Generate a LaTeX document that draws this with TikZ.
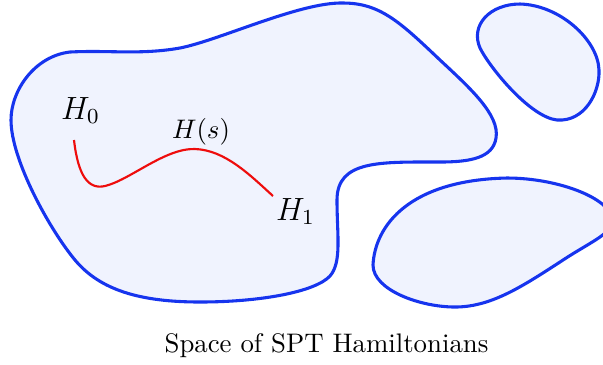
\documentclass[tikz,border=0pt]{standalone}
\definecolor{blobline}{RGB}{22,52,238}
\definecolor{blobfill}{RGB}{240,243,254}
\definecolor{pathred}{RGB}{238,12,12}
\begin{document}
\begin{tikzpicture}[x=0.373pt,y=-0.373pt,
  blob/.style={draw=blobline,fill=blobfill,line width=1.15pt,line join=round},
  lbl/.style={anchor=base,inner sep=0pt,font=\normalsize},
  biglbl/.style={anchor=base,inner sep=0pt,font=\large}]
\useasboundingbox (0,0) rectangle (603,364);
\begin{scope}
\clip (0,0) rectangle (603,364);
% main region
\draw[blob] (11,120) .. controls (11,90) and (35,56) .. (70,52)
  .. controls (110,50) and (140,55) .. (180,48)
  .. controls (220,40) and (300,2) .. (343,3)
  .. controls (380,3) and (400,22) .. (440,60)
  .. controls (470,88) and (500,115) .. (496,138)
  .. controls (493,158) and (470,162) .. (440,162)
  .. controls (380,162) and (337,160) .. (337,200)
  .. controls (337,235) and (342,262) .. (330,276)
  .. controls (315,292) and (260,302) .. (200,302)
  .. controls (140,302) and (100,290) .. (75,260)
  .. controls (50,230) and (11,160) .. (11,120) -- cycle;
% top right region
\draw[blob] (520,4) .. controls (490,4) and (470,25) .. (480,48)
  .. controls (490,68) and (530,117) .. (557,120)
  .. controls (585,122) and (600,92) .. (599,70)
  .. controls (598,40) and (560,5) .. (520,4) -- cycle;
% bottom right region
\draw[blob] (373,265) .. controls (375,225) and (410,180) .. (507,178)
  .. controls (560,178) and (615,200) .. (612,222)
  .. controls (610,235) and (590,242) .. (560,262)
  .. controls (520,288) and (490,307) .. (455,307)
  .. controls (420,307) and (373,290) .. (373,265) -- cycle;
\end{scope}
% labels
\node[biglbl] (h0) at (80.5,119) {$H_0$};
\node[lbl] (hs) at (201,138) {$H(s)$};
\node[biglbl] (h1) at (295.5,220) {$H_1$};
\node[lbl] (cap) at (326.5,352) {Space of SPT Hamiltonians};
% path of Hamiltonians
\coordinate (p0) at (74,140);
\coordinate (p1) at (273,196);
\draw[pathred,line width=0.8pt] (p0) .. controls (78,175) and (88,190) .. (105,186)
  .. controls (130,180) and (165,148) .. (195,149)
  .. controls (225,150) and (250,175) .. (p1);
\end{tikzpicture}
\end{document}
